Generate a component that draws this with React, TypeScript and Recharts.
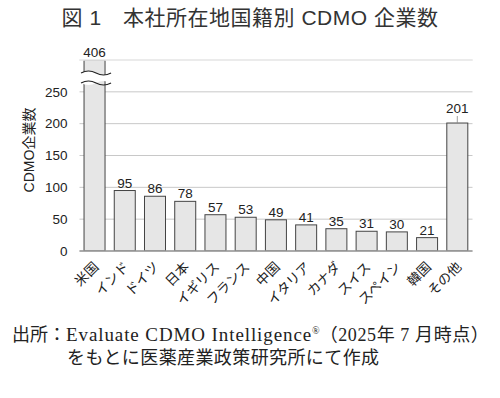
import React from 'react';
import { BarChart, Bar, XAxis, YAxis, CartesianGrid, LabelList, ReferenceLine } from 'recharts';

const COUNTRIES = ['米国', 'インド', 'ドイツ', '日本', 'イギリス', 'フランス', '中国', 'イタリア', 'カナダ', 'スイス', 'スペイン', '韓国', 'その他'];
const COUNTS = [406, 95, 86, 78, 57, 53, 49, 41, 35, 31, 30, 21, 201];
const Y_TICKS = [0, 50, 100, 150, 200, 250, 300];
const Y_MAX = 300;

const data = COUNTRIES.map((name, i) => ({ name, count: COUNTS[i] }));

const SANS = "'Liberation Sans', 'Noto Sans CJK JP', sans-serif";
const SERIF = "'Liberation Serif', 'Noto Sans CJK JP', serif";
const PLOT_TOP = 60;

function wave(x0: number, x1: number, y: number) {
  const w = (x1 - x0) / 2;
  return `M${x0},${y} q${w / 2},-4 ${w},0 t${w},0`;
}

function BarShape(props: any) {
  const { x, y, width, height, payload } = props;
  const bottom = y + height;
  const top = Math.max(y, PLOT_TOP);
  const broken = payload.count > Y_MAX;
  const y1 = top + 13;
  const y2 = top + 23;
  const x0 = x - 3;
  const x1 = x + width + 6;
  return (
    <g>
      <rect x={x} y={top} width={width} height={bottom - top} fill="#e6e6e6" stroke="#444" strokeWidth={1} />
      {broken && (
        <g>
          <path d={`${wave(x0, x1, y1)} L${x1},${y2} ${wave(x1, x0, y2).replace('M', 'L')} Z`} fill="#fff" stroke="none" />
          <path d={wave(x0, x1, y1)} fill="none" stroke="#222" strokeWidth={1.2} />
          <path d={wave(x0, x1, y2)} fill="none" stroke="#222" strokeWidth={1.2} />
        </g>
      )}
    </g>
  );
}

function ValueLabel(props: any) {
  const { x, y, width, value, index } = props;
  const cx = x + width / 2;
  const top = Math.max(y, PLOT_TOP);
  const last = index === COUNTRIES.length - 1;
  const ly = last ? top - 10 : top - 3;
  return (
    <g>
      {last && <line x1={cx} x2={cx} y1={top - 7} y2={top} stroke="#888" strokeWidth={0.8} />}
      <text x={cx} y={ly} textAnchor="middle" fontSize={13.5} fill="#222" fontFamily={SANS}>
        {value}
      </text>
    </g>
  );
}

function CountryTick(props: any) {
  const { x, y, payload } = props;
  return (
    <g transform={`translate(${x + 2},${y + 6})`}>
      <text transform="rotate(-45)" textAnchor="end" dy={4} fontSize={13.5} fill="#222" fontFamily={SANS}>
        {payload.value}
      </text>
    </g>
  );
}

export default function App() {
  return (
    <div style={{ position: 'absolute', left: 0, top: 0, width: 500, height: 398, background: '#fff', fontFamily: SANS }}>
      <div style={{ position: 'absolute', top: 3, left: 0, width: 500, textAlign: 'center', fontSize: 21, color: '#333', lineHeight: '30px', letterSpacing: 0.5 }}>
        図 1　本社所在地国籍別 CDMO 企業数
      </div>
      <div
        style={{
          position: 'absolute',
          left: 28,
          top: 150,
          transform: 'translate(-50%, -50%) rotate(-90deg)',
          fontSize: 14,
          color: '#222',
          whiteSpace: 'nowrap',
        }}
      >
        CDMO企業数
      </div>
      <div style={{ position: 'absolute', left: 0, top: 0 }}>
        <BarChart width={500} height={310} data={data} margin={{ top: PLOT_TOP, right: 27.5, left: 20, bottom: 9 }} barCategoryGap="15%">
          <CartesianGrid vertical={false} stroke="#c8c8c8" />
          <ReferenceLine y={Y_MAX} stroke="#eeeeee" strokeWidth={1.5} />
          <XAxis dataKey="name" interval={0} height={50} tickLine={false} axisLine={{ stroke: '#999', strokeWidth: 1.5 }} tick={<CountryTick />} />
          <YAxis
            width={59.5}
            domain={[0, Y_MAX]}
            ticks={Y_TICKS}
            allowDataOverflow
            axisLine={false}
            tickLine={false}
            tickMargin={6}
            tickFormatter={(v: number) => (v === Y_MAX ? '' : String(v))}
            tick={{ fontSize: 13.5, fill: '#222', fontFamily: SANS }}
          />
          <Bar dataKey="count" shape={<BarShape />} isAnimationActive={false}>
            <LabelList dataKey="count" position="top" content={<ValueLabel />} />
          </Bar>
        </BarChart>
      </div>
      <div style={{ position: 'absolute', left: 12, top: 319, fontFamily: SERIF, fontSize: 18, color: '#222', lineHeight: '23px', whiteSpace: 'nowrap' }}>
        <div>
          出所：<span style={{ fontSize: 19, letterSpacing: 0.9 }}>Evaluate CDMO Intelligence</span>
          <sup style={{ fontSize: 10 }}>®</sup>
          <span style={{ letterSpacing: 0.6 }}>（2025年 7 月時点）</span>
        </div>
        <div style={{ paddingLeft: 55, letterSpacing: 0.4 }}>をもとに医薬産業政策研究所にて作成</div>
      </div>
    </div>
  );
}
